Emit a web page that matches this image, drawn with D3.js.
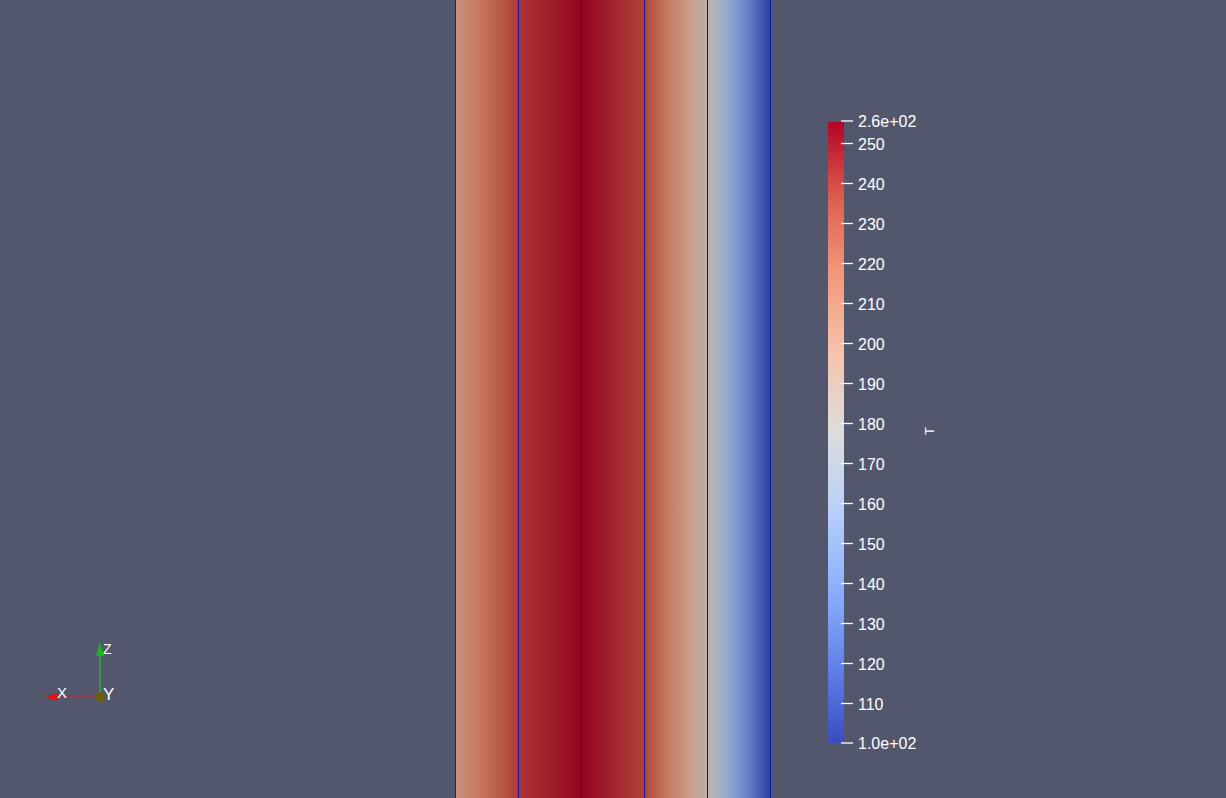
<!DOCTYPE html>
<html><head><meta charset="utf-8">
<script src="https://cdn.jsdelivr.net/npm/d3@7"></script>
<style>html,body{margin:0;padding:0;background:#52576e;overflow:hidden}</style>
</head><body>
<svg id="c" width="1226" height="798"></svg>
<script>
// ---- data ----
const nodeX = [0, 1, 2, 3, 4, 5];                 // mesh node coordinates
const nodeT = [205, 242, 255.25, 239, 183, 100];  // temperature at nodes
const rangeT = [100, 255.25];
const tickValues = [110,120,130,140,150,160,170,180,190,200,210,220,230,240,250];
const rangeLabels = ["1.0e+02", "2.6e+02"];
const cmapPos = [0, 0.125, 0.25, 0.375, 0.5, 0.625, 0.75, 0.875, 1];
const cmapCol = ["#3b4cc0","#6282ea","#8db0fe","#b8d0f9","#dddddd","#f5c4ad","#f49a7b","#de604d","#b40426"];
const titleText = "T";

const svg = d3.select("#c");
svg.append("rect").attr("width",1226).attr("height",798).attr("fill","#52576e");
const defs = svg.append("defs");

const cmap = d3.scaleLinear().domain(cmapPos.map(p => rangeT[0] + p*(rangeT[1]-rangeT[0])))
  .range(cmapCol).interpolate(d3.interpolateRgb).clamp(true);
const shade = 0.82;
const shaded = v => { const c = d3.rgb(cmap(v)); return d3.rgb(c.r*shade, c.g*shade, c.b*shade).toString(); };

const x = d3.scaleLinear().domain([0,5]).range([455.5, 770.5]);

// strips
for (let i = 0; i < nodeX.length-1; i++) {
  const g = defs.append("linearGradient").attr("id","s"+i).attr("x1","0").attr("x2","1").attr("y1","0").attr("y2","0");
  const n = 24;
  for (let k = 0; k <= n; k++) {
    const f = k/n;
    const v = nodeT[i] + (nodeT[i+1]-nodeT[i])*f;
    g.append("stop").attr("offset", f).attr("stop-color", shaded(v));
  }
  svg.append("rect").attr("x", x(nodeX[i])).attr("y",0)
    .attr("width", x(nodeX[i+1]) - x(nodeX[i])).attr("height",798)
    .attr("fill","url(#s"+i+")");
}
// edges
svg.selectAll("line.edge").data(nodeX).join("line").attr("class","edge")
  .attr("x1", d => x(d)).attr("x2", d => x(d)).attr("y1",0).attr("y2",798)
  .attr("stroke", (d,i) => i===0 ? "#262a5a" : "#1414a0").attr("stroke-width",1);

// colorbar
const cy = d3.scaleLinear().domain(rangeT).range([743, 122]);
const cg = defs.append("linearGradient").attr("id","cb").attr("x1","0").attr("x2","0").attr("y1","1").attr("y2","0");
for (let k = 0; k <= 40; k++) {
  const f = k/40;
  cg.append("stop").attr("offset", f).attr("stop-color", cmap(rangeT[0] + f*(rangeT[1]-rangeT[0])));
}
svg.append("rect").attr("x",828).attr("y",cy(rangeT[1])).attr("width",16)
  .attr("height", cy(rangeT[0]) - cy(rangeT[1])).attr("fill","url(#cb)");

const axis = d3.axisRight(cy).tickValues(tickValues).tickSize(12).tickPadding(5).tickFormat(d3.format("d"));
const ag = svg.append("g").attr("transform","translate(841,0)").call(axis);
ag.select(".domain").remove();
ag.selectAll(".tick line").attr("stroke","#ffffff").attr("stroke-width",1.3);
ag.selectAll(".tick text").attr("fill","#ffffff").attr("font-family","Liberation Sans, Arial, sans-serif").attr("font-size",16).attr("dy","0.4em");
// range labels
const rg = svg.append("g");
rangeT.forEach((v,i) => {
  const yy = cy(v) + (i===0 ? 0 : -1);
  rg.append("line").attr("x1",841).attr("x2",853).attr("y1",yy).attr("y2",yy).attr("stroke","#fff").attr("stroke-width",1.3);
  rg.append("text").attr("x",858).attr("y",yy).attr("dy","0.4em").attr("fill","#fff")
    .attr("font-family","Liberation Sans, Arial, sans-serif").attr("font-size",16).text(rangeLabels[i]);
});
// title
svg.append("text").attr("transform","translate(934,431) rotate(-90)").attr("text-anchor","middle")
  .attr("fill","#fff").attr("font-family","Liberation Sans, Arial, sans-serif").attr("font-size",13).text(titleText);

// orientation triad
const ox = 100, oy = 697;
const tri = svg.append("g");
tri.append("line").attr("x1",ox).attr("y1",oy).attr("x2",ox).attr("y2",651).attr("stroke","#22c422").attr("stroke-width",1.2);
tri.append("path").attr("d",`M${ox},642 L${ox-4},656 L${ox+4},656 Z`).attr("fill","#11bb11");
tri.append("line").attr("x1",ox).attr("y1",oy).attr("x2",52).attr("y2",oy).attr("stroke","#d42020").attr("stroke-width",1.2);
tri.append("path").attr("d",`M44,${oy} L58,${oy-4} L58,${oy+4} Z`).attr("fill","#e01010");
tri.append("circle").attr("cx",ox).attr("cy",oy).attr("r",5).attr("fill","#6b6012");
const lf = "Liberation Sans, Arial, sans-serif";
tri.append("text").attr("x",103).attr("y",654).attr("fill","#fff").attr("font-family",lf).attr("font-size",14).text("Z");
tri.append("text").attr("x",57).attr("y",698).attr("fill","#fff").attr("font-family",lf).attr("font-size",15).text("X");
tri.append("text").attr("x",103).attr("y",700).attr("fill","#fff").attr("font-family",lf).attr("font-size",17).text("Y");
</script>
</body></html>
